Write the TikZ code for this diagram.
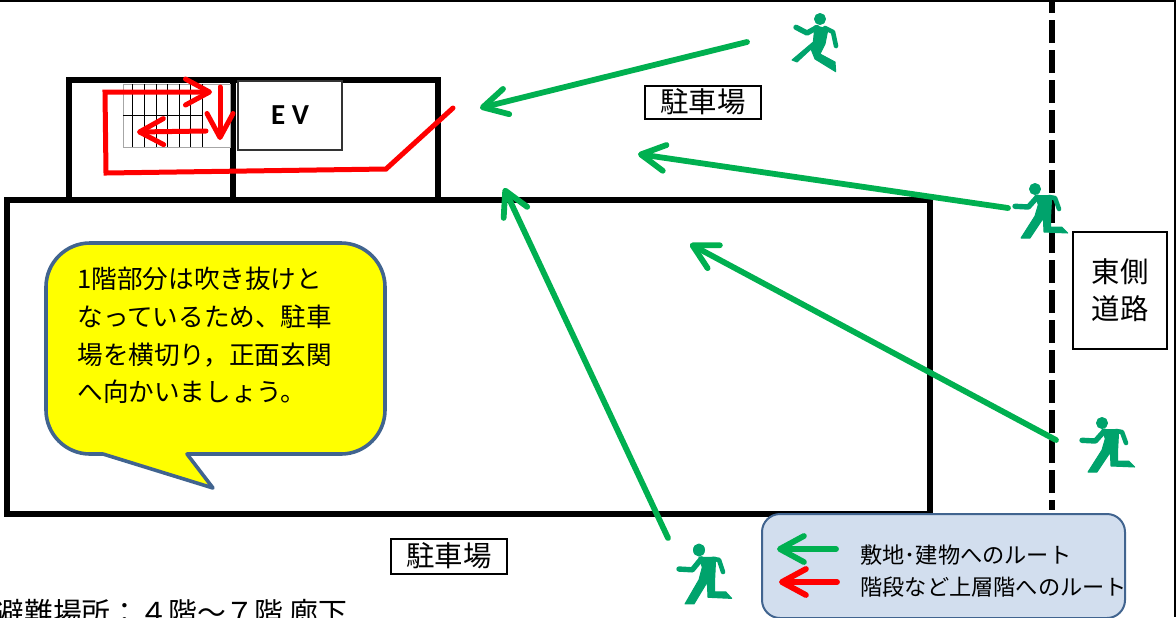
\documentclass[tikz,border=0pt]{standalone}
\usepackage{fontspec}
\usetikzlibrary{arrows.meta}
\setmainfont{Noto Sans CJK JP}
\newfontfamily\latinb{Carlito}
\definecolor{routegreen}{HTML}{00B050}
\definecolor{runnergreen}{HTML}{00A36C}
\definecolor{routered}{HTML}{FF0000}
\definecolor{shapeblue}{HTML}{41648F}
\definecolor{legendfill}{HTML}{D2DEEE}
\definecolor{calloutfill}{HTML}{FFFF00}
\tikzset{
  wall/.style={draw=black,line width=2.75pt,line cap=rect},
  openarrow/.style={-{Straight Barb[length=12pt,width=13pt,round]},line width=2.9pt,line cap=round,line join=round},
  greenroute/.style={openarrow,draw=routegreen},
  redroute/.style={openarrow,draw=routered,line width=2.5pt,line join=miter},
  labelbox/.style={draw=black,line width=1pt,fill=white,inner sep=0pt,font=\fontsize{14.2}{18.5}\selectfont},
  figure/.style={fill=runnergreen,draw=runnergreen,line width=0.5pt,line join=round},
  limb/.style={draw=runnergreen,line cap=round,line join=round},
  runnerside/.pic={
    \fill[figure] (0,0) circle (5.5);
    \draw[limb,line width=2.7pt] (-20,17.3) -- (-6.7,18) -- (2.3,8);
    \draw[limb,line width=2.3pt] (14,8) -- (20,9) -- (24,20);
    \path[figure] (0,6.7) -- (16.7,6.7) -- (15.7,25.7) -- (15.7,38) -- (26.7,38) -- (32.7,44) -- (9,43) -- (8.3,29) -- (-5,49) -- (-14,49) -- (0,27) -- (3.3,15.7) -- cycle;
  },
  runnertop/.pic={
    \fill[figure] (0,0) circle (5.5);
    \draw[limb,line width=2.7pt] (-24,8.3) -- (-13,14) -- (-3,8.5);
    \draw[limb,line width=2.3pt] (5,9) -- (13,13) -- (16,27);
    \path[figure] (-5,6.7) -- (8,10) -- (5,25) -- (0,35) -- (15,43) -- (15.7,52.7) -- (-5,40) -- (-9,30) -- (-23,43) -- (-28,41) -- (-6.7,23) -- cycle;
  }
}
\begin{document}
\begin{tikzpicture}[x=0.5pt,y=-0.5pt]
\useasboundingbox (0,0) rectangle (1176,617);
\clip (0,0) rectangle (1176,617);
% frame
\draw[line width=1.2pt] (0,0.5) -- (1175,0.5) -- (1175,617);
% east boundary
\coordinate (dashtop) at (1052,-10);
\coordinate (dashend) at (1052,510);
\draw[line width=2.6pt,dash pattern=on 11.5pt off 3.5pt] (dashtop) -- (dashend);
% building
\draw[wall] (7,200) rectangle (930,514);
\draw[wall] (69,199) -- (69,80) -- (438,80) -- (438,199);
\draw[wall] (233,80) -- (233,199);
% stairs
\draw[gray!70,line width=0.5pt] (123,84) rectangle (230,147);
\foreach \sx in {132,144,156,167,179,190,202}{\draw[black,line width=0.45pt] (\sx,84) -- (\sx,147);}
\draw[black,line width=0.45pt] (123,115) -- (202,115);
% EV
\node[draw=black!80,line width=0.8pt,fill=white,minimum width=52pt,minimum height=34.5pt,inner sep=0pt,font=\latinb\bfseries\fontsize{14.5}{14.5}\selectfont] (ev) at (290,115.5) {E V};
% red route
\coordinate (r1) at (453,108);
\coordinate (r2) at (386,169);
\coordinate (r3) at (106,173);
\coordinate (r4) at (105,92);
\coordinate (r5) at (212,92);
\coordinate (d1) at (220,87);
\coordinate (d2) at (220,140);
\coordinate (l1) at (206,131);
\coordinate (l2) at (137,132);
\draw[redroute] (r1) -- (r2) -- (r3) -- (r4) -- (r5);
\draw[redroute] (d1) -- (d2);
\draw[redroute] (l1) -- (l2);
% green routes
\coordinate (g1s) at (747,42);
\coordinate (g1e) at (480,108);
\coordinate (g2s) at (1008,208);
\coordinate (g2e) at (638,154);
\coordinate (g3s) at (1056,440);
\coordinate (g3e) at (690,244);
\coordinate (g4s) at (668,538);
\coordinate (g4e) at (504,188);
\draw[greenroute] (g1s) -- (g1e);
\draw[greenroute] (g2s) -- (g2e);
\draw[greenroute] (g3s) -- (g3e);
\draw[greenroute] (g4s) -- (g4e);
% runners
\pic at (820,19) {runnertop};
\pic at (1035,189) {runnerside};
\pic at (1102,423) {runnerside};
\pic[yscale=1.1] at (699,550) {runnerside};
% labels
\node[labelbox,minimum width=58pt,minimum height=16.5pt] (park1) at (703,102) {駐車場};
\node[labelbox,minimum width=58pt,minimum height=17.5pt] (park2) at (449,556) {駐車場};
\node[labelbox,minimum width=47pt,minimum height=58.5pt,align=center] (road) at (1120,290.5) {東側\\道路};
% callout
\draw[fill=calloutfill,draw=shapeblue,line width=1.8pt,line join=round]
  (103,454) [rounded corners=22pt] -- (46,454) -- (46,243) -- (385,243) -- (385,454) [sharp corners] -- (187,454) -- (213,488) -- cycle;
\node[anchor=north west,inner sep=0pt,align=left,font=\fontsize{12.8}{18.8}\selectfont] (note) at (77,267) {1階部分は吹き抜けと\\なっているため、駐車\\場を横切り，正面玄関\\へ向かいましょう。};
% legend
\draw[fill=legendfill,draw=shapeblue,line width=1pt,rounded corners=9pt] (762,514) rectangle (1125,618);
\coordinate (lg1) at (836,549);
\coordinate (lg2) at (777,549);
\coordinate (lr1) at (837,582);
\coordinate (lr2) at (779,582);
\draw[greenroute] (lg1) -- (lg2);
\draw[redroute,line width=2.9pt] (lr1) -- (lr2);
\node[anchor=west,inner sep=0pt,font=\fontsize{11.1}{11.1}\selectfont] (leg1) at (860,555) {敷地･建物へのルート};
\node[anchor=west,inner sep=0pt,font=\fontsize{11.1}{11.1}\selectfont] (leg2) at (860,587) {階段など上層階へのルート};
% bottom text
\node[anchor=west,inner sep=0pt,font=\fontsize{14.4}{14.4}\selectfont] (refuge) at (-5,613) {避難場所：４階～７階 廊下};
\end{tikzpicture}
\end{document}
